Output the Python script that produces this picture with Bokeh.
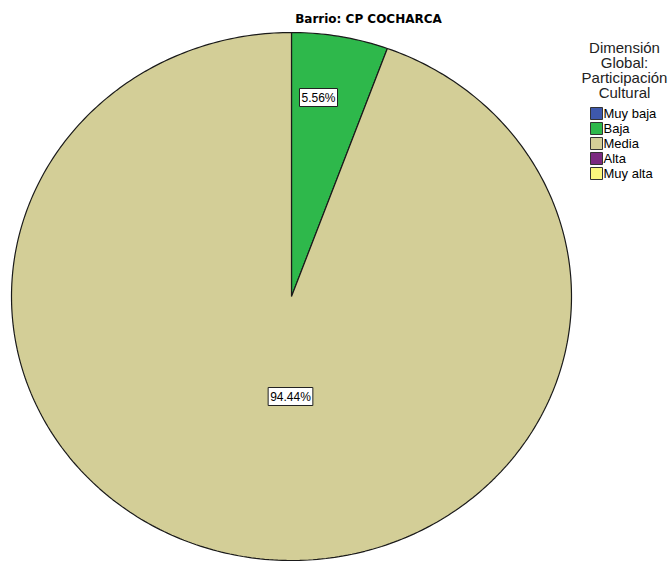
import numpy as np
from bokeh.plotting import figure
from bokeh.models import Range1d
from bokeh.core.properties import value
from bokeh.embed import file_html
from bokeh.resources import INLINE

# ---- data ----
title = "Barrio: CP COCHARCA"
legend_title = ["Dimensión", "Global:", "Participación", "Cultural"]
categories = ["Muy baja", "Baja", "Media", "Alta", "Muy alta"]
percents = [0.0, 5.56, 94.44, 0.0, 0.0]
colors = ["#3E58AC", "#2EB84B", "#D3CE97", "#7B2A80", "#FBF87D"]

# ---- layout (screen-like coordinates) ----
W, H = 671, 561
cx, cy, rx, ry = 291, 296, 280, 264
label_pos = {"Baja": (318, 97), "Media": (290, 396)}

p = figure(width=W, height=H, output_backend="svg", toolbar_location=None,
           x_range=Range1d(0, W), y_range=Range1d(H, 0),
           min_border=0, outline_line_color=None)
p.axis.visible = False
p.grid.visible = False
p.background_fill_color = "white"

# wedges: clockwise from 12 o'clock
total = sum(percents)
xs, ys, fills = [], [], []
start = 0.0
for cat, v, c in zip(categories, percents, colors):
    if v <= 0:
        continue
    end = start + v / total * 2 * np.pi
    t = np.linspace(start, end, max(3, int(400 * (end - start) / (2 * np.pi)) + 2))
    x = np.concatenate([[cx], cx + rx * np.sin(t), [cx]])
    y = np.concatenate([[cy], cy - ry * np.cos(t), [cy]])
    xs.append(x.tolist()); ys.append(y.tolist()); fills.append(c)
    start = end
p.patches(xs=xs, ys=ys, fill_color=fills, line_color="#1a1a1a", line_width=1.2)

# percentage labels
lx, ly, lt = [], [], []
for cat, v in zip(categories, percents):
    if v > 0:
        lx.append(label_pos[cat][0]); ly.append(label_pos[cat][1]); lt.append(f"{v:.2f}%")
p.text(x=lx, y=ly, text=lt, text_align="center", text_baseline="middle",
       text_font=value("Liberation Sans"), text_font_size="12px", text_color="black",
       background_fill_color="white", border_line_color="#222222", border_line_width=1,
       padding=2)

# title
p.text(x=[368], y=[18], text=[title], text_align="center", text_baseline="middle",
       text_font=value("DejaVu Sans"), text_font_style="bold", text_font_size="12px",
       text_color="black")

# legend title
p.text(x=[624] * len(legend_title), y=[47 + 15 * i for i in range(len(legend_title))],
       text=legend_title, text_align="center", text_baseline="middle",
       text_font=value("Liberation Sans"), text_font_size="15px", text_color="#222222")

# legend items
ny = [113 + 15 * i for i in range(len(categories))]
p.scatter(x=[596] * len(categories), y=ny, marker="square", size=12,
          fill_color=colors, line_color="#333333", line_width=1)
p.text(x=[603] * len(categories), y=ny, text=categories, text_align="left",
       text_baseline="middle", text_font=value("Liberation Sans"), text_font_size="13px",
       text_color="black")

open("out.html", "w").write(file_html(p, INLINE))
